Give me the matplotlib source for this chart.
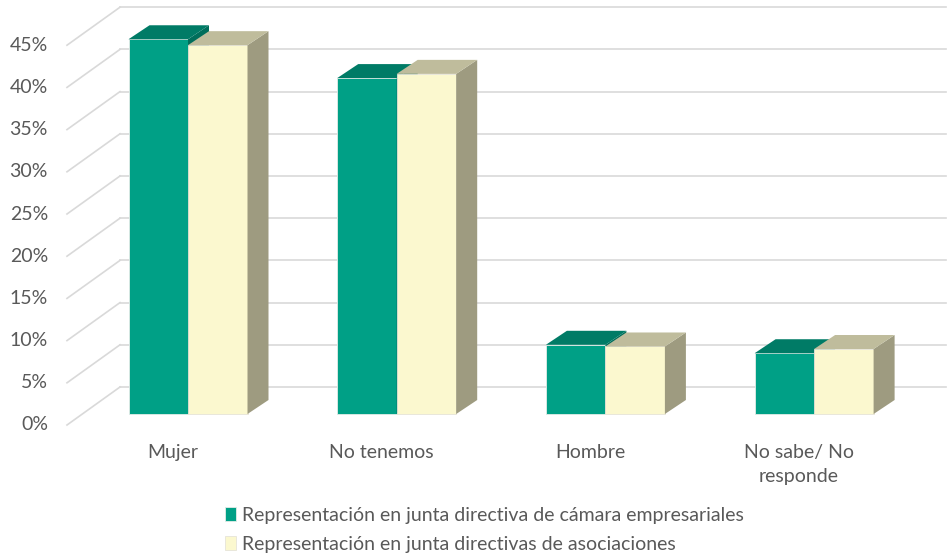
import matplotlib.pyplot as plt
from matplotlib.patches import Polygon

# Values (percent)
categories = ['Mujer', 'No tenemos', 'Hombre', 'No sabe/ No\nresponde']
camara = [44.4, 39.8, 8.2, 7.2]
asociaciones = [43.7, 40.3, 8.0, 7.7]
series_names = ['Representación en junta directiva de cámara empresariales',
                'Representación en junta directivas de asociaciones']
y_ticks = [0, 5, 10, 15, 20, 25, 30, 35, 40, 45]

# colours: front, top, side
green = ('#00A086', '#007B66', '#006E5B')
cream = ('#FBF8CF', '#BFBC9C', '#9E9B80')
grid_color = '#d9d9d9'
text_color = '#595959'

plt.rcParams['font.family'] = ['Lato', 'DejaVu Sans']

fig = plt.figure(figsize=(9.47, 5.56), dpi=100)
ax = fig.add_axes([0, 0, 1, 1])
ax.axis('off')

# pixel scales of the oblique projection (x: category units, y: percent)
px_x = 1 / 208.7
px_y = 1 / 8.44
ax.set_xlim(-188 * px_x, (947 - 188) * px_x)
ax.set_ylim(-142 * px_y, 414 * px_y)

bar_w = 59.5 * px_x
depth = (21 * px_x, 14 * px_y)      # bar depth
back = (38 * px_x, 27 * px_y)       # bar front plane -> back wall
front = (-15 * px_x, -11 * px_y)    # bar front plane -> front floor edge
left_front_x = -121 * px_x
wall_right_x = (946 - 188) * px_x

# gridlines: back wall + slanted lines on the left wall
for v in y_ticks:
    ax.plot([left_front_x + back[0] - front[0], wall_right_x],
            [v + back[1], v + back[1]], color=grid_color, lw=1.2, zorder=1)
    ax.plot([left_front_x, left_front_x + back[0] - front[0]],
            [v + front[1], v + back[1]], color=grid_color, lw=1.2, zorder=1)
    ax.text(-140 * px_x, v + front[1], f'{v}%', ha='right', va='center',
            fontsize=14, color=text_color)


def draw_faces(x0, h, cols, z):
    # side and top faces of a pseudo-3D bar
    dx, dy = depth
    x1 = x0 + bar_w
    side = Polygon([(x1, 0), (x1 + dx, dy), (x1 + dx, h + dy), (x1, h)],
                   closed=True, facecolor=cols[2], edgecolor='none', zorder=z)
    top = Polygon([(x0, h), (x1, h), (x1 + dx, h + dy), (x0 + dx, h + dy)],
                  closed=True, facecolor=cols[1], edgecolor='none', zorder=z)
    ax.add_patch(side)
    ax.add_patch(top)


bars_g = bars_c = None
for i in range(len(categories)):
    # painter's order: green bar first, cream bar in front of its side
    bars_g = ax.bar(i - bar_w / 2, camara[i], width=bar_w, color=green[0],
                    edgecolor='#e4ece8', linewidth=0.6, zorder=10 + i)
    draw_faces(i - bar_w, camara[i], green, 10 + i)
    bars_c = ax.bar(i + bar_w / 2, asociaciones[i], width=bar_w, color=cream[0],
                    edgecolor='#e6e4d8', linewidth=0.6, zorder=10.5 + i)
    draw_faces(i, asociaciones[i], cream, 10.5 + i)

# category labels at the front floor edge
for i, cat in enumerate(categories):
    ax.text(i + front[0], -30 * px_y, cat, ha='center', va='top',
            fontsize=14, color=text_color, linespacing=1.5)

fig.legend([bars_g, bars_c], series_names, loc='upper left',
           bbox_to_anchor=(0.238, 0.088), frameon=False, fontsize=14,
           handlelength=0.55, handleheight=0.75, handletextpad=0.3,
           labelspacing=0.62, borderpad=0, borderaxespad=0,
           labelcolor=text_color)

fig.savefig('out.png', dpi=100)
